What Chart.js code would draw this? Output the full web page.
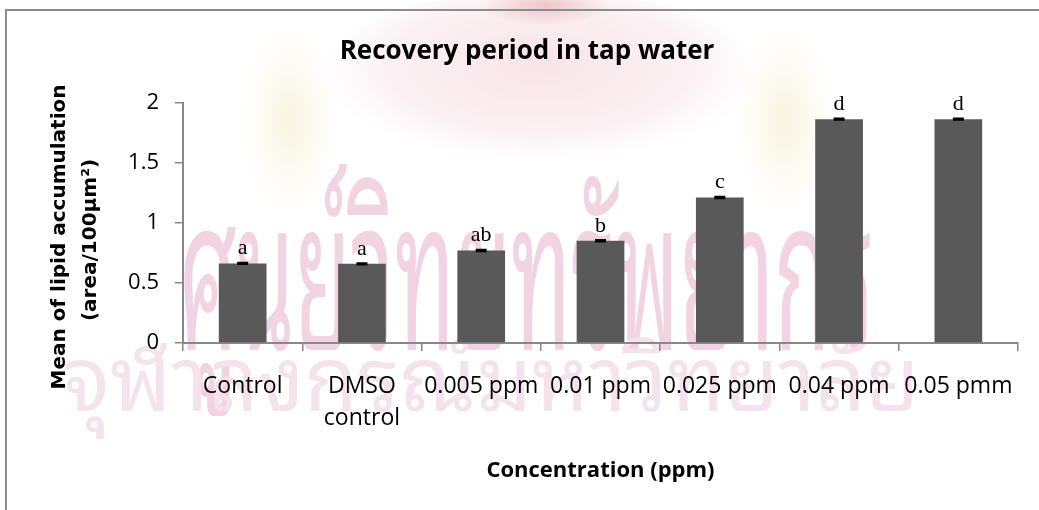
<!DOCTYPE html>
<html>
<head>
<meta charset="utf-8">
<script src="https://cdn.jsdelivr.net/npm/chart.js@4.4.1/dist/chart.umd.min.js"></script>
<style>
    html, body { margin: 0; padding: 0; background: #fff; }
    #wrap { position: relative; width: 1039px; height: 510px; overflow: hidden; }
    #frame { position: absolute; left: 5px; top: 9px; width: 1100px; height: 600px;
             border-left: 2px solid #8c8c8c; border-top: 2px solid #8c8c8c; }
    .blob { position: absolute; border-radius: 50%; }
    #seal { left: 325px; top: -10px; width: 430px; height: 170px;
            background: radial-gradient(ellipse at 50% 45%, rgba(225,140,160,0.24) 0%, rgba(235,180,195,0.18) 50%, rgba(255,255,255,0) 72%); }
    #crown { left: 480px; top: -14px; width: 130px; height: 40px;
             background: radial-gradient(ellipse, rgba(200,90,90,0.28), rgba(255,255,255,0) 70%); }
    #earL, #earR { top: 25px; width: 100px; height: 190px;
                   background: radial-gradient(ellipse, rgba(235,220,160,0.3), rgba(255,255,255,0) 70%); }
    #earL { left: 240px; }
    #earR { left: 735px; }
    .wm { position: absolute; white-space: nowrap; transform-origin: 0 0; line-height: 1;
          font-family: 'Noto Sans Thai Looped', 'Loma', 'Garuda', 'Norasi', 'Noto Sans Thai', 'Noto Sans', sans-serif; }
    #wm1 { left: 179px; top: 150px; font-size: 140px; color: #f1d3e1; }
    #wm2 { left: 63px; top: 326px; font-size: 90px; color: #f4e2ec; }
    canvas { position: absolute; left: 0; top: 0; }
</style>
</head>
<body>
<div id="wrap">
    <div class="blob" id="seal"></div>
    <div class="blob" id="crown"></div>
    <div class="blob" id="earL"></div>
    <div class="blob" id="earR"></div>
    <div class="wm" id="wm1">ศูนย์วิทยทรัพยากร</div>
    <div class="wm" id="wm2">จุฬาลงกรณ์มหาวิทยาลัย</div>
    <div id="frame"></div>
    <canvas id="barChart" width="1039" height="510"></canvas>
</div>
<script>
// data
const categories = ['Control', ['DMSO', 'control'], '0.005 ppm', '0.01 ppm', '0.025 ppm', '0.04 ppm', '0.05 pmm'];
const meanValues = [0.664, 0.660, 0.772, 0.853, 1.214, 1.867, 1.867];
const errorValues = [0.006, 0.006, 0.006, 0.006, 0.006, 0.006, 0.006];
const groupLetters = ['a', 'a', 'ab', 'b', 'c', 'd', 'd'];
const yTicks = [0, 0.5, 1, 1.5, 2];

const titleText = 'Recovery period in tap water';
const xTitleText = 'Concentration (ppm)';
const yTitleLines = ['Mean of lipid accumulation', '(area/100\u00b5m\u00b2)'];

// squeeze the watermark lines into their boxes
function fitBox(id, w, sy) {
    const el = document.getElementById(id);
    const sx = w / el.offsetWidth;
    el.style.transform = 'scale(' + sx + ',' + sy + ')';
}
fitBox('wm1', 695, 1.5);
fitBox('wm2', 857, 1);

const axisGrey = '#888888';

const extras = {
    id: 'extras',
    afterDatasetsDraw(chart) {
        const ctx = chart.ctx;
        const y = chart.scales.y;
        const meta = chart.getDatasetMeta(0);
        ctx.save();
        meta.data.forEach(function (bar, i) {
            const x = bar.x;
            const hi = y.getPixelForValue(meanValues[i] + errorValues[i]);
            const lo = y.getPixelForValue(meanValues[i] - errorValues[i]);
            ctx.strokeStyle = '#000';
            ctx.lineWidth = 2;
            ctx.beginPath();
            ctx.moveTo(x, hi); ctx.lineTo(x, lo);
            ctx.moveTo(x - 5.5, hi); ctx.lineTo(x + 5.5, hi);
            ctx.moveTo(x - 5.5, lo); ctx.lineTo(x + 5.5, lo);
            ctx.stroke();

            ctx.fillStyle = '#000';
            ctx.font = '22px "Liberation Serif"';
            ctx.textAlign = 'center';
            ctx.textBaseline = 'alphabetic';
            ctx.fillText(groupLetters[i], x, y.getPixelForValue(meanValues[i]) - 9);
        });
        ctx.restore();
    },
    afterDraw(chart) {
        // two-line y title, Excel style
        const ctx = chart.ctx;
        ctx.save();
        ctx.translate(60, 237);
        ctx.rotate(-Math.PI / 2);
        ctx.fillStyle = '#000';
        ctx.font = 'bold 20px "DejaVu Sans"';
        ctx.textAlign = 'center';
        ctx.textBaseline = 'middle';
        ctx.fillText(yTitleLines[0], 0, 0);
        ctx.fillText(yTitleLines[1], -3, 31);
        ctx.restore();
    }
};

new Chart(document.getElementById('barChart'), {
    type: 'bar',
    data: {
        labels: categories,
        datasets: [{
            data: meanValues,
            backgroundColor: '#595959',
            borderWidth: 0,
            barPercentage: 0.4,
            categoryPercentage: 1.0,
        }],
    },
    options: {
        responsive: false,
        animation: false,
        layout: { padding: { left: 36, right: 21, top: 0, bottom: 20 } },
        plugins: {
            legend: { display: false },
            tooltip: { enabled: false },
            title: {
                display: true,
                text: titleText,
                color: '#000',
                font: { family: 'Open Sans', size: 26, weight: 'bold', lineHeight: 1.2 },
                padding: { top: 36, bottom: 36 },
            },
        },
        scales: {
            x: {
                grid: { drawOnChartArea: false, drawTicks: true, tickLength: 8, color: axisGrey, lineWidth: 1.5 },
                border: { color: axisGrey, width: 2 },
                ticks: {
                    color: '#000',
                    font: { family: 'Open Sans', size: 23, lineHeight: 1.4 },
                    padding: 19,
                    autoSkip: false,
                    maxRotation: 0,
                    minRotation: 0,
                },
                title: {
                    display: true,
                    text: xTitleText,
                    color: '#000',
                    font: { family: 'Open Sans', size: 22, weight: 'bold', lineHeight: 1.2 },
                    padding: { top: 0, bottom: 6 },
                },
                afterFit(scale) { scale.height = 147; },
            },
            y: {
                min: 0,
                max: 2,
                afterBuildTicks(scale) { scale.ticks = yTicks.map(v => ({ value: v })); },
                grid: { drawOnChartArea: false, drawTicks: true, tickLength: 8, color: axisGrey, lineWidth: 1.5 },
                border: { color: axisGrey, width: 2 },
                ticks: {
                    color: '#000',
                    font: { family: 'Open Sans', size: 22 },
                    padding: 16,
                    callback: v => String(v),
                },
                afterFit(scale) { scale.width = 147; },
            },
        },
    },
    plugins: [extras],
});
</script>
</body>
</html>
